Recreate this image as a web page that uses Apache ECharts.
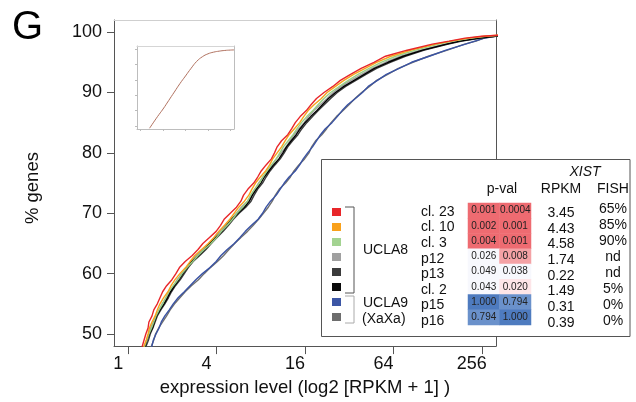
<!DOCTYPE html>
<html><head><meta charset="utf-8">
<script src="https://cdn.jsdelivr.net/npm/echarts@6/dist/echarts.min.js"></script>
<style>html,body{margin:0;padding:0;background:#fff}#c{width:636px;height:402px}</style>
</head><body><div id="c"></div>
<script>
// cumulative % of genes (shared levels) and the log2(RPKM+1) reached by each sample at that level
const pctLevels = [47.5,49,50,51,52,53,54,55,56,57,58,59,60,61,62,63,64,65,66,67,68,69,70,71,72,73,74,75,76,77,78,79,80,81,82,83,84,85,86,87,88,89,90,91,92,93,94,95,96,97,98,98.5,99,99.3,99.6];
const xCl23 = [0.30,0.36,0.40,0.45,0.47,0.54,0.58,0.66,0.72,0.78,0.87,0.99,1.08,1.16,1.29,1.45,1.58,1.69,1.84,1.99,2.09,2.17,2.31,2.45,2.55,2.61,2.71,2.84,2.93,3.01,3.12,3.24,3.31,3.37,3.47,3.61,3.70,3.78,3.89,4.03,4.14,4.26,4.43,4.63,4.80,5.03,5.27,5.56,5.82,6.31,6.88,7.26,7.62,8.00,8.60];
const xCl10 = [0.33,0.41,0.45,0.48,0.54,0.61,0.66,0.72,0.80,0.90,0.97,1.06,1.17,1.30,1.40,1.51,1.66,1.81,1.94,2.05,2.18,2.30,2.40,2.50,2.63,2.73,2.80,2.88,2.99,3.11,3.20,3.27,3.37,3.47,3.55,3.64,3.76,3.88,3.97,4.07,4.21,4.37,4.50,4.69,4.88,5.10,5.36,5.62,5.94,6.40,6.95,7.30,7.70,8.05,8.60];
const xCl3  = [0.35,0.42,0.47,0.53,0.58,0.63,0.70,0.78,0.85,0.92,1.02,1.13,1.22,1.33,1.46,1.58,1.72,1.87,2.00,2.11,2.24,2.36,2.46,2.59,2.70,2.77,2.86,2.97,3.05,3.14,3.24,3.35,3.43,3.51,3.62,3.73,3.82,3.92,4.04,4.18,4.30,4.43,4.58,4.78,4.98,5.20,5.45,5.72,6.05,6.50,7.02,7.35,7.75,8.10,8.60];
const xP12  = [0.36,0.43,0.47,0.51,0.57,0.64,0.70,0.77,0.86,0.95,1.03,1.11,1.21,1.33,1.42,1.54,1.69,1.83,1.95,2.06,2.20,2.34,2.45,2.56,2.70,2.80,2.87,2.95,3.05,3.17,3.26,3.35,3.46,3.57,3.66,3.75,3.86,3.98,4.08,4.20,4.35,4.50,4.64,4.82,5.04,5.28,5.52,5.82,6.16,6.60,7.15,7.45,7.90,8.25,8.60];
const xP13  = [0.38,0.46,0.50,0.56,0.61,0.66,0.74,0.83,0.91,0.98,1.07,1.18,1.27,1.36,1.47,1.62,1.76,1.88,2.01,2.15,2.27,2.38,2.51,2.66,2.78,2.85,2.93,3.04,3.12,3.21,3.32,3.44,3.53,3.61,3.72,3.84,3.93,4.04,4.17,4.30,4.44,4.58,4.73,4.92,5.15,5.38,5.62,5.93,6.27,6.70,7.24,7.55,7.98,8.30,8.60];
const xCl2  = [0.37,0.42,0.48,0.55,0.59,0.64,0.72,0.81,0.89,0.96,1.05,1.15,1.24,1.33,1.44,1.59,1.73,1.84,1.98,2.12,2.23,2.34,2.48,2.63,2.74,2.81,2.90,3.00,3.08,3.18,3.29,3.41,3.50,3.58,3.69,3.80,3.89,4.00,4.13,4.27,4.40,4.53,4.69,4.88,5.11,5.34,5.57,5.88,6.22,6.66,7.20,7.50,7.95,8.28,8.60];
const xP15  = [0.52,0.57,0.63,0.70,0.75,0.83,0.93,1.02,1.13,1.27,1.40,1.53,1.68,1.85,1.99,2.10,2.24,2.40,2.53,2.65,2.79,2.94,3.04,3.12,3.22,3.35,3.44,3.53,3.64,3.78,3.88,3.96,4.06,4.17,4.26,4.35,4.46,4.61,4.73,4.84,4.97,5.14,5.30,5.43,5.64,5.84,6.13,6.41,6.81,7.19,7.63,7.84,8.06,8.30,8.60];
const xP16  = [0.50,0.58,0.62,0.69,0.78,0.87,0.95,1.05,1.17,1.29,1.43,1.59,1.72,1.86,2.02,2.16,2.28,2.41,2.55,2.70,2.83,2.95,3.06,3.17,3.26,3.33,3.42,3.56,3.67,3.75,3.86,3.99,4.09,4.15,4.24,4.38,4.49,4.59,4.71,4.86,5.00,5.13,5.28,5.46,5.62,5.87,6.11,6.44,6.79,7.22,7.61,7.87,8.04,8.32,8.60];

// inset curve
const insetX = [0.8,1.5,2.0,2.5,3.0,3.5,4.0,4.5,5.0,5.5,6.0,6.5,7.0,7.5,8.0,8.32];
const insetY = [-3,12,22,33,44,55,65,75,84,90,93.8,96,97.3,98.2,98.7,98.9];

// table
const sampleNames = ['cl. 23','cl. 10','cl. 3','p12','p13','cl. 2','p15','p16'];
const pvalA = ['0.001','0.002','0.004','0.026','0.049','0.043','1.000','0.794'];
const pvalB = ['0.0004','0.001','0.001','0.008','0.038','0.020','0.794','1.000'];
const rpkmVals = ['3.45','4.43','4.58','1.74','0.22','1.49','0.31','0.39'];
const fishVals = ['65%','85%','90%','nd','nd','5%','0%','0%'];

// axes
const xTicksLog2 = [0,2,4,6,8];
const yTicks = [50,60,70,80,90,100];
const insetXTicks = [0,2,4,6,8];
const insetYTicks = [0,20,40,60,80,100];

const sampleX = [xCl23,xCl10,xCl3,xP12,xP13,xCl2,xP15,xP16];
const sampleColors = ['#e8262a','#f7a21b','#98cf86','#9d9d9d','#3c3c3c','#000000','#3a53a4','#707070'];
const squareColors = ['#e8262a','#f9a11b','#a3d391','#a0a0a0','#3b3b3b','#0a0a0a','#3c56a5','#6d6d6d'];
const drawOrder = [7,6,3,4,5,2,1,0];

const FONT = '"Liberation Sans", Arial, Helvetica, sans-serif';
const chart = echarts.init(document.getElementById('c'), null, {renderer:'canvas'});

const lineSeries = drawOrder.map(k => ({
  type:'line', name: sampleNames[k], xAxisIndex:0, yAxisIndex:0,
  data: pctLevels.map((p,i)=>[sampleX[k][i], p]),
  showSymbol:false, symbol:'none', clip:true, z:2,
  lineStyle:{color:sampleColors[k], width:1.4}, silent:true
}));

const heatData = [];
sampleNames.forEach((n,r)=>{
  heatData.push([0, r, parseFloat(pvalA[r]), pvalA[r]]);
  heatData.push([1, r, parseFloat(pvalB[r]), pvalB[r]]);
});

function T(x,y,text,opts){
  opts = opts||{};
  return {type:'text', x:x, y:y, z:120, silent:true, style:{
    text:text, fill:opts.color||'#111', fontSize:opts.size||14, fontFamily:FONT,
    fontStyle:opts.italic?'italic':'normal',
    textAlign:opts.align||'left', align:opts.align||'left',
    textVerticalAlign:'middle', verticalAlign:'middle'}};
}

const graphics = [];
graphics.push(T(12,28,'G',{size:40,color:'#000'}));
graphics.push({type:'rect', z:100, silent:true, shape:{x:321.5,y:159.5,width:308.5,height:177},
  style:{fill:'#fff', stroke:'#555', lineWidth:1}});
graphics.push(T(585,172,'XIST',{italic:true, align:'center'}));
graphics.push(T(502,189,'p-val',{align:'center'}));
graphics.push(T(561,189,'RPKM',{align:'center'}));
graphics.push(T(613,189,'FISH',{align:'center'}));
squareColors.forEach((c,i)=>{
  graphics.push({type:'rect', z:120, silent:true, shape:{x:332,y:208+i*15.0,width:9,height:8}, style:{fill:c}});
});
graphics.push({type:'polyline', z:120, silent:true, shape:{points:[[345,207],[354,207],[354,293],[345,293]]},
  style:{stroke:'#555', lineWidth:1, fill:null}});
graphics.push({type:'polyline', z:120, silent:true, shape:{points:[[345,296],[354,296],[354,323],[345,323]]},
  style:{stroke:'#aaa', lineWidth:1, fill:null}});
graphics.push(T(363,250,'UCLA8'));
graphics.push(T(363,303,'UCLA9'));
graphics.push(T(362,319,'(XaXa)'));
sampleNames.forEach((n,i)=>{
  graphics.push(T(421,212+i*15.6,n));
  graphics.push(T(561,213+i*15.7,rpkmVals[i],{align:'center'}));
  graphics.push(T(613,209.5+i*16,fishVals[i],{align:'center'}));
});

function frameAxis(base){
  return Object.assign({splitLine:{show:false}, axisTick:{show:false}, axisLabel:{show:false}}, base);
}

const option = {
  animation:false,
  backgroundColor:'#fff',
  textStyle:{fontFamily:FONT},
  grid:[
    {left:114, top:20, width:382, height:328, containLabel:false},
    {left:137, top:46, width:97, height:83, containLabel:false},
    {left:468, top:203, width:63, height:122, containLabel:false, z:110}
  ],
  xAxis:[
    {type:'value', gridIndex:0, position:'bottom', min:-0.32, max:8.32,
     axisLine:{show:true, onZero:false, lineStyle:{color:'#555', width:1}},
     axisTick:{show:true, customValues:xTicksLog2, length:8, lineStyle:{color:'#555'}},
     axisLabel:{show:true, customValues:xTicksLog2, formatter:v=>String(Math.round(Math.pow(2,v))),
       fontSize:18, color:'#111', fontFamily:FONT, margin:9, padding:[0,20,0,0]},
     splitLine:{show:false},
     name:'expression level (log2 [RPKM + 1] )', nameLocation:'middle', nameGap:29,
     nameTextStyle:{fontSize:18.5, color:'#111', fontFamily:FONT}},
    frameAxis({type:'value', gridIndex:0, position:'top', min:-0.32, max:8.32,
     axisLine:{show:true, onZero:false, lineStyle:{color:'#cfcfcf'}}}),
    {type:'value', gridIndex:1, position:'bottom', min:-0.32, max:8.32,
     axisLine:{show:true, onZero:false, lineStyle:{color:'#bdbdbd'}},
     axisTick:{show:true, customValues:insetXTicks, length:2, lineStyle:{color:'#bbb'}},
     axisLabel:{show:false}, splitLine:{show:false}},
    frameAxis({type:'value', gridIndex:1, position:'top', min:-0.32, max:8.32,
     axisLine:{show:true, onZero:false, lineStyle:{color:'#d5d5d5'}}}),
    {type:'category', gridIndex:2, data:['A','B'], show:false}
  ],
  yAxis:[
    {type:'value', gridIndex:0, position:'left', min:48, max:102,
     axisLine:{show:true, onZero:false, lineStyle:{color:'#555', width:1}},
     axisTick:{show:true, customValues:yTicks, length:7, lineStyle:{color:'#555'}},
     axisLabel:{show:true, customValues:yTicks, fontSize:18, color:'#111', fontFamily:FONT, margin:12},
     splitLine:{show:false},
     name:'% genes', nameLocation:'middle', nameGap:72,
     nameTextStyle:{fontSize:18.5, color:'#111', fontFamily:FONT, padding:[0,10,0,0]}},
    frameAxis({type:'value', gridIndex:0, position:'right', min:48, max:102,
     axisLine:{show:true, onZero:false, lineStyle:{color:'#555'}}}),
    {type:'value', gridIndex:1, position:'left', min:-4, max:104,
     axisLine:{show:true, onZero:false, lineStyle:{color:'#bdbdbd'}},
     axisTick:{show:true, customValues:insetYTicks, length:2, lineStyle:{color:'#bbb'}},
     axisLabel:{show:false}, splitLine:{show:false}},
    frameAxis({type:'value', gridIndex:1, position:'right', min:-4, max:104,
     axisLine:{show:true, onZero:false, lineStyle:{color:'#bdbdbd'}}}),
    {type:'category', gridIndex:2, data:sampleNames, inverse:true, show:false}
  ],
  visualMap:{
    type:'piecewise', show:false, dimension:2, seriesIndex:lineSeries.length+1,
    pieces:[
      {lte:0.005, color:'#ee6b71'},
      {gt:0.005, lte:0.012, color:'#f4a2a5'},
      {gt:0.012, lte:0.024, color:'#fde5e8'},
      {gt:0.024, lte:0.2, color:'#f7f8fd'},
      {gt:0.2, lte:0.9, color:'#6a91cb'},
      {gt:0.9, color:'#4e7bbf'}
    ]
  },
  series: lineSeries.concat([
    {type:'line', xAxisIndex:2, yAxisIndex:2, data:insetX.map((x,i)=>[x,insetY[i]]),
     showSymbol:false, symbol:'none', clip:true, smooth:true, lineStyle:{color:'#b0715f', width:1}, silent:true},
    {type:'heatmap', xAxisIndex:4, yAxisIndex:4, data:heatData, z:110, silent:true,
     itemStyle:{borderWidth:0},
     label:{show:true, formatter:p=>p.data[3], fontSize:10, color:'#222', fontFamily:FONT}}
  ]),
  graphic: graphics
};
chart.setOption(option);
</script></body></html>
